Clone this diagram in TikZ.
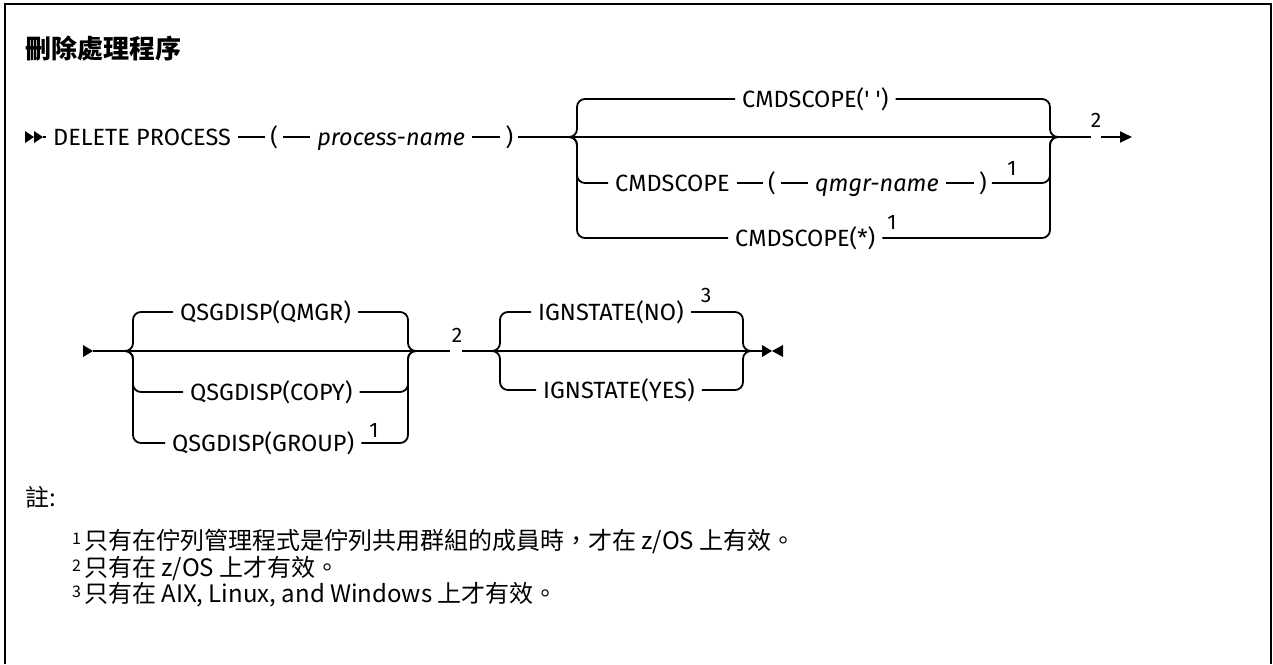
\documentclass[tikz,border=0pt]{standalone}
\usepackage{fontspec}
\setmainfont{Fira Sans}
\newfontfamily\cjk{Noto Sans CJK TC}
\usetikzlibrary{arrows.meta,positioning}

\begin{document}
\begin{tikzpicture}[
    x=1pt, y=-1pt,
    syntax/.style={
        font=\fontsize{23.5}{27}\selectfont, anchor=west,
        inner xsep=7pt, inner ysep=0pt, text height=16pt, text depth=0pt
    },
    argname/.style={syntax, font=\fontsize{23.5}{27}\selectfont\itshape},
    paren/.style={syntax, inner xsep=5pt},
    footref/.style={font=\fontsize{21}{22}\selectfont, inner sep=0pt},
    rail/.style={line width=1.8pt, rounded corners=8pt},
    end arrow/.style={line width=1.8pt, -{Triangle[length=12pt,width=11pt]}},
    note line/.style={font=\cjk\fontsize{24}{28}\selectfont, anchor=base west, inner sep=0pt}
]
    \useasboundingbox (0,0) rectangle (1273,664);
    \draw[line width=2.5pt] (5,664) -- (5,4) -- (1271,4) -- (1271,664);

    \node[font=\cjk\bfseries\fontsize{26}{30}\selectfont, anchor=base west, inner sep=0pt]
        (title) at (25,58) {刪除處理程序};

    \fill (25,131) -- (34,137) -- (25,143) -- cycle;
    \fill (34,131) -- (43,137) -- (34,143) -- cycle;
    \coordinate (startA) at (43,137);
    \node[syntax] (delete) at (46,137) {DELETE PROCESS};
    \node[paren, right=27pt of delete] (lpA) {(};
    \node[argname, right=27pt of lpA] (pname) {process-name};
    \node[paren, right=28pt of pname] (rpA) {)};

    \coordinate (braceAl) at (567,137);
    \coordinate (vertAl) at (577,137);
    \coordinate (vertAr) at (1050,137);
    \coordinate (braceAr) at (1058,137);
    \node[syntax] (scopeBlank) at (735,99) {CMDSCOPE(\textquotesingle\ \textquotesingle)};
    \node[syntax] (scopeQ) at (608,183) {CMDSCOPE};
    \node[paren, right=26pt of scopeQ] (lpB) {(};
    \node[argname, right=27pt of lpB] (qname) {qmgr-name};
    \node[paren, right=28pt of qname] (rpB) {)};
    \node[footref] (fnQ) at (1012,168) {1};
    \node[syntax] (scopeStar) at (728,238) {CMDSCOPE(*)};
    \node[footref] (fnStar) at (892,222) {1};

    \draw[rail] (startA) -- (delete) -- (lpA) -- (pname) -- (rpA) -- (braceAl) -- (braceAr);
    \draw[rail] (braceAl) -- (vertAl) |- (scopeBlank.west);
    \draw[rail] (braceAl) -- (vertAl) |- (scopeQ.west);
    \draw[rail] (braceAl) -- (vertAl) |- (scopeStar.west);
    \draw[rail] (scopeQ) -- (lpB) -- (qname) -- (rpB);
    \draw[rail] (scopeBlank.east) -| (vertAr) -- (braceAr);
    \draw[rail] (rpB.east) -| (vertAr) -- (braceAr);
    \draw[rail] (scopeStar.east) -| (vertAr) -- (braceAr);

    \coordinate (gapAl) at (1091,137);
    \coordinate (gapAr) at (1101,137);
    \coordinate (endA) at (1132,137);
    \node[footref] (fnTwoA) at (1096,120) {2};
    \draw[rail] (braceAr) -- (gapAl);
    \draw[end arrow] (gapAr) -- (endA);

    \fill (83,345) -- (93,351) -- (83,357) -- cycle;
    \coordinate (startB) at (93,351);
    \coordinate (braceBl) at (125,351);
    \coordinate (vertBl) at (133,351);
    \coordinate (vertBr) at (408,351);
    \coordinate (braceBr) at (418,351);
    \node[syntax] (dispQmgr) at (173,312) {QSGDISP(QMGR)};
    \node[syntax] (dispCopy) at (183,392) {QSGDISP(COPY)};
    \node[syntax] (dispGroup) at (165,443) {QSGDISP(GROUP)};
    \node[footref] (fnGroup) at (374,430) {1};

    \draw[rail] (startB) -- (braceBl) -- (braceBr);
    \draw[rail] (braceBl) -- (vertBl) |- (dispQmgr.west);
    \draw[rail] (braceBl) -- (vertBl) |- (dispCopy.west);
    \draw[rail] (braceBl) -- (vertBl) |- (dispGroup.west);
    \draw[rail] (dispQmgr.east) -| (vertBr) -- (braceBr);
    \draw[rail] (dispCopy.east) -| (vertBr) -- (braceBr);
    \draw[rail] (dispGroup.east) -| (vertBr) -- (braceBr);

    \coordinate (gapBl) at (450,351);
    \coordinate (gapBr) at (462,351);
    \node[footref] (fnTwoB) at (457,335) {2};
    \coordinate (braceCl) at (492,351);
    \coordinate (vertCl) at (500,351);
    \coordinate (vertCr) at (743,351);
    \coordinate (braceCr) at (752,351);
    \coordinate (endC) at (762,351);
    \node[syntax] (ignNo) at (531,312) {IGNSTATE(NO)};
    \node[footref] (fnThree) at (706,295) {3};
    \node[syntax] (ignYes) at (536,390) {IGNSTATE(YES)};

    \draw[rail] (braceBr) -- (gapBl);
    \draw[rail] (gapBr) -- (braceCl) -- (braceCr) -- (endC);
    \draw[rail] (braceCl) -- (vertCl) |- (ignNo.west);
    \draw[rail] (braceCl) -- (vertCl) |- (ignYes.west);
    \draw[rail] (ignNo.east) -| (vertCr) -- (braceCr);
    \draw[rail] (ignYes.east) -| (vertCr) -- (braceCr);
    \fill (762,345) -- (772,351) -- (762,357) -- cycle;
    \fill (783,345) -- (772,351) -- (783,357) -- cycle;

    \node[note line] (notes) at (25,506) {註:};
    \node[note line] (noteOne) at (72,549)
        {\raisebox{5pt}{\fontsize{16}{16}\selectfont 1}\hspace{3pt}只有在佇列管理程式是佇列共用群組的成員時，才在 z/OS 上有效。};
    \node[note line] (noteTwo) at (72,576)
        {\raisebox{5pt}{\fontsize{16}{16}\selectfont 2}\hspace{3pt}只有在 z/OS 上才有效。};
    \node[note line] (noteThree) at (72,602)
        {\raisebox{5pt}{\fontsize{16}{16}\selectfont 3}\hspace{3pt}只有在 AIX, Linux, and Windows 上才有效。};

\end{tikzpicture}
\end{document}
